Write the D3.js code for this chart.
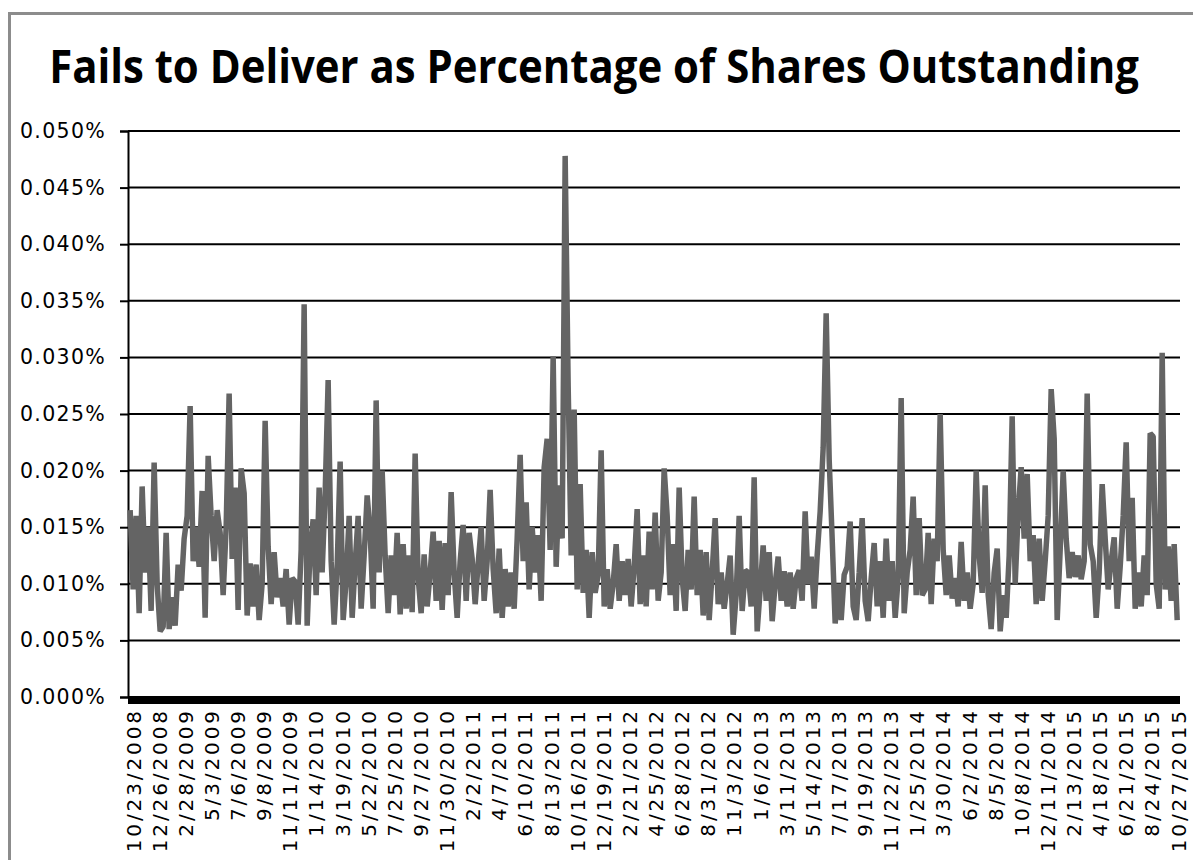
<!DOCTYPE html>
<html>
<head>
<meta charset="utf-8">
<title>Fails to Deliver</title>
<script src="https://cdn.jsdelivr.net/npm/d3@7"></script>
<style>
  body { margin: 0; background: #fff; }
</style>
</head>
<body>
<div id="chart-area"></div>
<script>

// Data (values in percent of shares outstanding)

let tickLabels = ["10/23/2008", "12/26/2008", "2/28/2009", "5/3/2009", "7/6/2009", "9/8/2009",
  "11/11/2009", "1/14/2010", "3/19/2010", "5/22/2010", "7/25/2010", "9/27/2010", "11/30/2010",
  "2/2/2011", "4/7/2011", "6/10/2011", "8/13/2011", "10/16/2011", "12/19/2011", "2/21/2012",
  "4/25/2012", "6/28/2012", "8/31/2012", "11/3/2012", "1/6/2013", "3/11/2013", "5/14/2013",
  "7/17/2013", "9/19/2013", "11/22/2013", "1/25/2014", "3/30/2014", "6/2/2014", "8/5/2014",
  "10/8/2014", "12/11/2014", "2/13/2015", "4/18/2015", "6/21/2015", "8/24/2015", "10/27/2015"];

let yTicks = [0, 0.005, 0.010, 0.015, 0.020, 0.025, 0.030, 0.035, 0.040, 0.045, 0.050];

let seriesStart = "10/16/2008";
let seriesEnd = "10/25/2015";

// late 2008 - mid 2010
let fails2008 = [
  0.0165, 0.0095, 0.0160, 0.0074, 0.0186, 0.0110, 0.0150, 0.0076, 0.0207, 0.0100,
  0.0058, 0.0062, 0.0145, 0.0060, 0.0088, 0.0063, 0.0117, 0.0094, 0.0140, 0.0160,
  0.0257, 0.0120, 0.0150, 0.0115, 0.0182, 0.0070, 0.0213, 0.0160, 0.0120, 0.0165,
  0.0145, 0.0090, 0.0150, 0.0268, 0.0122, 0.0185, 0.0077, 0.0202, 0.0180, 0.0072,
  0.0118, 0.0080, 0.0117, 0.0068, 0.0100, 0.0244, 0.0133, 0.0082, 0.0128, 0.0088,
  0.0105, 0.0080, 0.0113, 0.0064, 0.0105, 0.0102, 0.0064, 0.0130, 0.0347, 0.0063,
  0.0131, 0.0157, 0.0090, 0.0185, 0.0110, 0.0180, 0.0280, 0.0120, 0.0064, 0.0115,
  0.0208, 0.0068, 0.0103, 0.0160, 0.0070, 0.0118, 0.0160, 0.0078, 0.0125, 0.0178,
  0.0146, 0.0078, 0.0262, 0.0110, 0.0200, 0.0125, 0.0074, 0.0125, 0.0090];

// mid 2010 - early 2012
let fails2010 = [
  0.0145, 0.0073, 0.0135, 0.0078, 0.0125, 0.0075, 0.0215, 0.0105, 0.0074, 0.0126,
  0.0080, 0.0110, 0.0146, 0.0085, 0.0138, 0.0077, 0.0136, 0.0090, 0.0181, 0.0110,
  0.0070, 0.0120, 0.0152, 0.0085, 0.0145, 0.0122, 0.0082, 0.0118, 0.0150, 0.0085,
  0.0120, 0.0183, 0.0113, 0.0074, 0.0131, 0.0070, 0.0113, 0.0080, 0.0110, 0.0078,
  0.0140, 0.0214, 0.0120, 0.0172, 0.0095, 0.0150, 0.0110, 0.0143, 0.0085, 0.0203,
  0.0228, 0.0130, 0.0301, 0.0115, 0.0187, 0.0140, 0.0478, 0.0275, 0.0125, 0.0254,
  0.0095, 0.0188, 0.0092, 0.0130, 0.0070, 0.0128, 0.0092, 0.0108, 0.0218, 0.0080,
  0.0113, 0.0078, 0.0100, 0.0135, 0.0085, 0.0120, 0.0090, 0.0122, 0.0080, 0.0115,
  0.0166, 0.0082, 0.0125, 0.0080, 0.0146, 0.0095, 0.0163, 0.0085];

// early 2012 - late 2013
let fails2012 = [
  0.0110, 0.0202, 0.0160, 0.0090, 0.0135, 0.0076, 0.0185, 0.0105, 0.0076, 0.0130,
  0.0095, 0.0177, 0.0090, 0.0130, 0.0072, 0.0128, 0.0068, 0.0110, 0.0158, 0.0082,
  0.0110, 0.0078, 0.0100, 0.0125, 0.0055, 0.0090, 0.0160, 0.0076, 0.0112, 0.0110,
  0.0080, 0.0194, 0.0058, 0.0095, 0.0134, 0.0085, 0.0128, 0.0067, 0.0100, 0.0124,
  0.0085, 0.0111, 0.0080, 0.0110, 0.0078, 0.0105, 0.0112, 0.0085, 0.0164, 0.0100,
  0.0124, 0.0078, 0.0125, 0.0164, 0.0220, 0.0339, 0.0210, 0.0140, 0.0065, 0.0100,
  0.0068, 0.0108, 0.0115, 0.0155, 0.0080, 0.0068, 0.0110, 0.0158, 0.0085, 0.0067,
  0.0105, 0.0136, 0.0080, 0.0120, 0.0070, 0.0140, 0.0085, 0.0120, 0.0070, 0.0105,
  0.0264, 0.0074, 0.0110, 0.0130, 0.0177, 0.0090, 0.0158, 0.0090];

// late 2013 - late 2015
let fails2013 = [
  0.0095, 0.0145, 0.0082, 0.0140, 0.0120, 0.0250, 0.0130, 0.0090, 0.0125, 0.0087,
  0.0105, 0.0080, 0.0137, 0.0085, 0.0110, 0.0078, 0.0100, 0.0200, 0.0125, 0.0092,
  0.0187, 0.0090, 0.0060, 0.0110, 0.0131, 0.0058, 0.0090, 0.0070, 0.0125, 0.0248,
  0.0100, 0.0163, 0.0203, 0.0140, 0.0197, 0.0120, 0.0143, 0.0082, 0.0140, 0.0085,
  0.0120, 0.0160, 0.0272, 0.0228, 0.0068, 0.0130, 0.0200, 0.0140, 0.0105, 0.0128,
  0.0106, 0.0125, 0.0104, 0.0120, 0.0268, 0.0135, 0.0120, 0.0070, 0.0110, 0.0188,
  0.0140, 0.0095, 0.0120, 0.0141, 0.0078, 0.0115, 0.0160, 0.0225, 0.0120, 0.0176,
  0.0078, 0.0110, 0.0080, 0.0125, 0.0090, 0.0233, 0.0230, 0.0100, 0.0078, 0.0304,
  0.0095, 0.0133, 0.0085, 0.0135, 0.0068];

let values = fails2008.concat(fails2010, fails2012, fails2013);


// Variable

let W = 1193, H = 860;
let m = {top: 131, right: 13, bottom: 163, left: 128};  // margin
let w = W - m.left - m.right;  // width
let h = H - m.top - m.bottom;  // height

let parseDate = d3.timeParse("%m/%d/%Y");

// make SVG - Canvas
let svg = d3.select("#chart-area")
    .append("svg")
    .attr("width", W)
    .attr("height", H);

// outer chart frame (only left + top visible)
svg.append("path")
    .attr("d", "M9.5," + H + "V13.5H" + W)
    .attr("fill", "none")
    .attr("stroke", "#8c8c8c")
    .attr("stroke-width", 3);

// title - squeezed a little to the width of the original
let title = svg.append("text")
    .attr("font-family", "'Open Sans', Lato, sans-serif")
    .attr("font-weight", "bold")
    .attr("font-size", "46px")
    .attr("text-anchor", "middle")
    .attr("fill", "#000")
    .text("Fails to Deliver as Percentage of Shares Outstanding");
let titleW = title.node().getComputedTextLength();
let sx = Math.min(1, 1090 / titleW);
title.attr("transform", "translate(594,83) scale(" + sx + ",1)");

let g = svg.append("g")
    .attr("transform", "translate(" + m.left + "," + m.top + ")");


// Scales
let x = d3.scaleTime()
    .domain([parseDate(tickLabels[0]), parseDate(tickLabels[tickLabels.length - 1])])
    .range([5, w - 2]);

let y = d3.scaleLinear()
    .domain([0, 0.05])
    .range([h, 0]);

// spread the readings evenly over the covered dates
let t0 = parseDate(seriesStart).getTime();
let t1 = parseDate(seriesEnd).getTime();
let dateAt = function(i) { return new Date(t0 + (t1 - t0) * i / (values.length - 1)); };


// gridlines
g.selectAll(".grid")
    .data(yTicks.filter(function(d) { return d > 0; }))
    .enter()
    .append("line")
      .attr("class", "grid")
      .attr("x1", 0)
      .attr("x2", w)
      .attr("y1", function(d) { return y(d); })
      .attr("y2", function(d) { return y(d); })
      .attr("stroke", "#000")
      .attr("stroke-width", 2);


// Y axis
let yAxisCall = d3.axisLeft(y)
    .tickValues(yTicks)
    .tickSize(8)
    .tickPadding(14)
    .tickFormat(function(d) { return d3.format(".3f")(d) + "%"; });

let yAxis = g.append("g")
    .attr("class", "y axis")
    .call(yAxisCall);
yAxis.select(".domain").attr("stroke", "#000").attr("stroke-width", 2);
yAxis.selectAll(".tick line").attr("stroke", "#000").attr("stroke-width", 2);
yAxis.selectAll("text")
    .attr("font-family", "'DejaVu Sans', Verdana, sans-serif")
    .attr("font-size", "20.5px")
    .attr("letter-spacing", "1.3px")
    .attr("fill", "#000");


// the line
let line = d3.line()
    .x(function(d, i) { return x(dateAt(i)); })
    .y(function(d) { return y(d); });

g.append("path")
    .datum(values)
    .attr("d", line)
    .attr("fill", "none")
    .attr("stroke", "#646464")
    .attr("stroke-width", 5.5)
    .attr("stroke-linejoin", "bevel");


// X axis (thick bar + rotated date labels)
g.append("line")
    .attr("x1", 0)
    .attr("x2", w)
    .attr("y1", y(0) + 3)
    .attr("y2", y(0) + 3)
    .attr("stroke", "#000")
    .attr("stroke-width", 8);

let xAxisCall = d3.axisBottom(x)
    .tickValues(tickLabels.map(parseDate))
    .tickSize(0)
    .tickFormat(d3.timeFormat("%-m/%-d/%Y"));

let xAxis = g.append("g")
    .attr("class", "x axis")
    .attr("transform", "translate(0," + h + ")")
    .call(xAxisCall);
xAxis.select(".domain").remove();
xAxis.selectAll("text")
    .attr("font-family", "'DejaVu Sans', Verdana, sans-serif")
    .attr("font-size", "20px")
    .attr("letter-spacing", "2.9px")
    .attr("fill", "#000")
    .attr("text-anchor", "end")
    .attr("dy", "0.35em")
    .attr("transform", "translate(0,11) rotate(-90)")
    .attr("x", 0)
    .attr("y", 0);

</script>
</body>
</html>
